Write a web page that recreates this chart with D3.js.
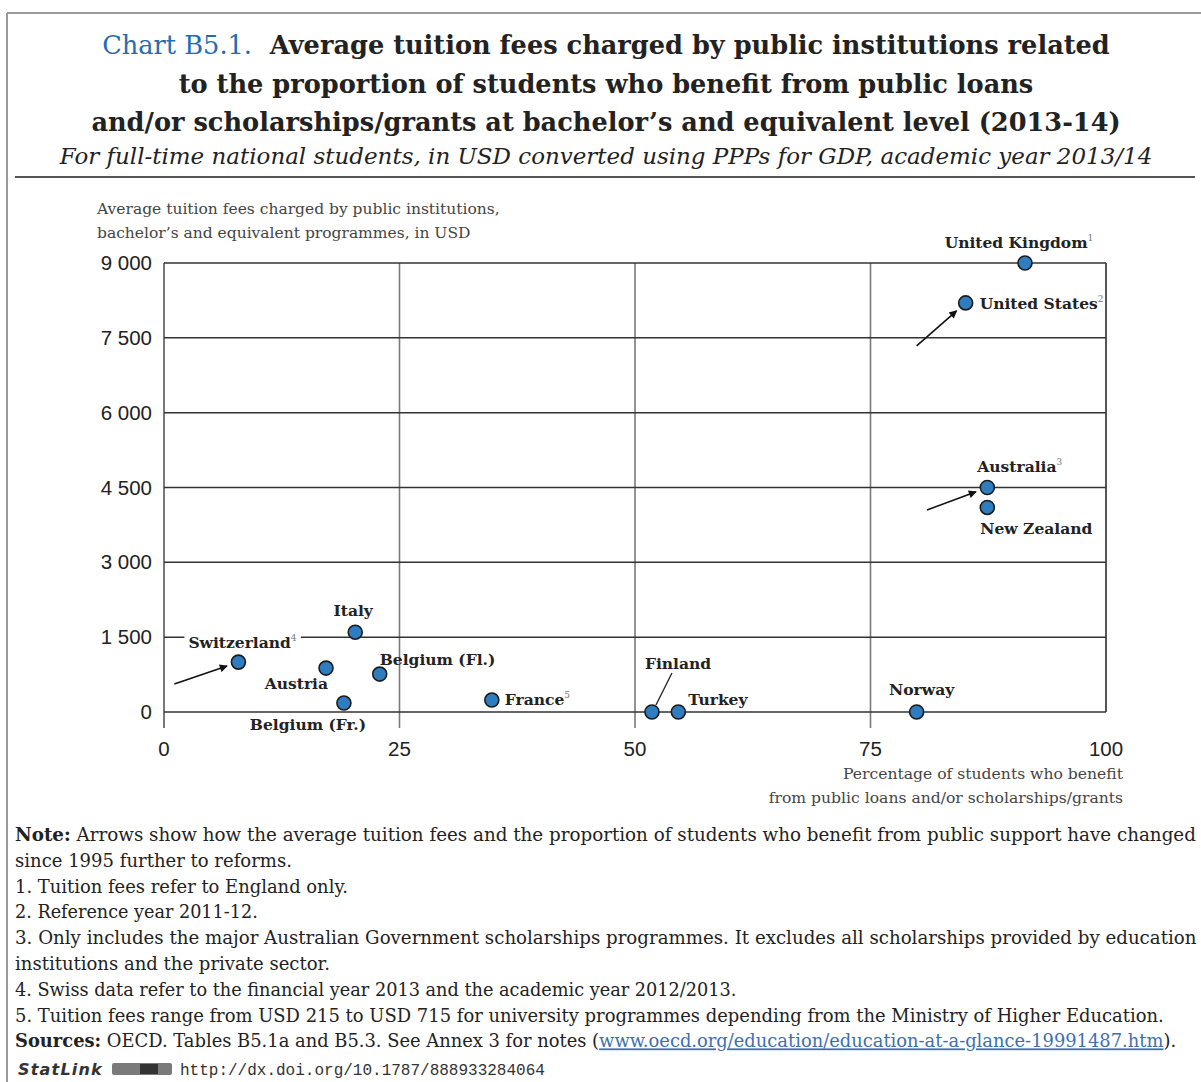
<!DOCTYPE html>
<html><head><meta charset="utf-8">
<script src="https://cdn.jsdelivr.net/npm/d3@7"></script>
<style>body{margin:0;background:#fff} svg{display:block}</style>
</head><body>
<svg id="c" width="1201" height="1082"></svg>
<script>
// ---------- data ----------
const countries = ["United Kingdom","United States","Australia","New Zealand","Italy","Switzerland","Austria","Belgium (Fl.)","Belgium (Fr.)","France","Finland","Turkey","Norway"];
const footnoteMarks = ["1","2","3","","","4","","","","5","","",""];
const pctBenefit = [91.4,85.1,87.4,87.4,20.3,7.9,17.2,22.9,19.1,34.8,51.8,54.6,79.9];
const tuitionUSD = [9000,8200,4500,4100,1600,1000,880,760,180,240,0,0,0];
const arrowCountries = ["United States","Australia","Switzerland"];
const arrowStartPct = [79.9,81.0,1.1];
const arrowStartUSD = [7340,4050,560];
const yTicks = [0,1500,3000,4500,6000,7500,9000];
const xTicks = [0,25,50,75,100];
const titleLines = ["Average tuition fees charged by public institutions related","to the proportion of students who benefit from public loans","and/or scholarships/grants at bachelor\u2019s and equivalent level (2013-14)"];
const subtitle = "For full-time national students, in USD converted using PPPs for GDP, academic year 2013/14";
const yTitle = ["Average tuition fees charged by public institutions,","bachelor\u2019s and equivalent programmes, in USD"];
const xTitle = ["Percentage of students who benefit","from public loans and/or scholarships/grants"];
const notes = [
  [["Note:",true],[" Arrows show how the average tuition fees and the proportion of students who benefit from public support have changed",false]],
  [["since 1995 further to reforms.",false]],
  [["1. Tuition fees refer to England only.",false]],
  [["2. Reference year 2011-12.",false]],
  [["3. Only includes the major Australian Government scholarships programmes. It excludes all scholarships provided by education",false]],
  [["institutions and the private sector.",false]],
  [["4. Swiss data refer to the financial year 2013 and the academic year 2012/2013.",false]],
  [["5. Tuition fees range from USD 215 to USD 715 for university programmes depending from the Ministry of Higher Education.",false]],
  [["Sources:",true],[" OECD. Tables B5.1a and B5.3. See Annex 3 for notes (",false],["www.oecd.org/education/education-at-a-glance-19991487.htm","link"],[").",false]]
];
const statLinkUrl = "http://dx.doi.org/10.1787/888933284064";

// ---------- layout ----------
const serif = "'DejaVu Serif', serif";
const sans = "'Liberation Sans', Arial, sans-serif";
const svg = d3.select("#c");
const x = d3.scaleLinear().domain([0,100]).range([164,1106]);
const y = d3.scaleLinear().domain([0,9000]).range([712,263]);
const ink = "#222";

// frame
svg.append("line").attr("x1",7).attr("x2",1201).attr("y1",13).attr("y2",13).attr("stroke","#9a9a9a").attr("stroke-width",2);
svg.append("line").attr("x1",7).attr("x2",7).attr("y1",13).attr("y2",1082).attr("stroke","#9a9a9a").attr("stroke-width",2);
svg.append("line").attr("x1",15).attr("x2",1195).attr("y1",177).attr("y2",177).attr("stroke","#555").attr("stroke-width",2.2);

function fit(sel, target){
  const n = sel.node(); const fs = parseFloat(sel.attr("font-size"));
  const w = n.getComputedTextLength();
  sel.attr("font-size", (fs*target/w).toFixed(2));
}

// title
const cx = 606;
const t1 = svg.append("text").attr("x",cx).attr("y",54).attr("text-anchor","middle").attr("font-family",serif).attr("font-size",24).attr("fill",ink);
t1.append("tspan").text("Chart B5.1.").attr("fill","#1f6db3");
t1.append("tspan").text("\u00a0\u00a0"+titleLines[0]).attr("font-weight","bold");
const t2 = svg.append("text").attr("x",cx).attr("y",93).attr("text-anchor","middle").attr("font-family",serif).attr("font-weight","bold").attr("font-size",24).attr("fill",ink).text(titleLines[1]);
const t3 = svg.append("text").attr("x",cx).attr("y",131).attr("text-anchor","middle").attr("font-family",serif).attr("font-weight","bold").attr("font-size",24).attr("fill",ink).text(titleLines[2]);
fit(t3,1030);
const tfs = t3.attr("font-size"); t1.attr("font-size",tfs); t2.attr("font-size",tfs);
const st = svg.append("text").attr("x",cx).attr("y",164).attr("text-anchor","middle").attr("font-family",serif).attr("font-style","italic").attr("font-size",20).attr("fill",ink).text(subtitle);
fit(st,1093);

// axis titles
yTitle.forEach((s,i)=>svg.append("text").attr("x",97).attr("y",214+i*24).attr("font-family",serif).attr("font-size",15.5).attr("fill","#444").text(s));
xTitle.forEach((s,i)=>svg.append("text").attr("x",1123).attr("y",779+i*24).attr("text-anchor","end").attr("font-family",serif).attr("font-size",15.6).attr("fill","#444").text(s));

// grid
const g = svg.append("g");
g.selectAll(".vg").data(xTicks.filter(d=>d>0&&d<100)).join("line")
  .attr("x1",d=>x(d)).attr("x2",d=>x(d)).attr("y1",y(9000)).attr("y2",y(0)+16).attr("stroke","#7a7a7a").attr("stroke-width",1.6);
g.append("line").attr("x1",x(0)).attr("x2",x(0)).attr("y1",y(9000)).attr("y2",y(0)+16).attr("stroke","#6a6a6a").attr("stroke-width",1.8);
g.append("line").attr("x1",x(100)).attr("x2",x(100)).attr("y1",y(9000)).attr("y2",y(0)).attr("stroke","#444").attr("stroke-width",1.8);
g.selectAll(".hg").data(yTicks).join("line")
  .attr("x1",x(0)).attr("x2",x(100)).attr("y1",d=>y(d)).attr("y2",d=>y(d)).attr("stroke","#333").attr("stroke-width",1.5);

// tick labels
const fmt = v => d3.format(",")(v).replace(/,/g," ");
svg.selectAll(".yl").data(yTicks).join("text").attr("x",152).attr("y",d=>y(d)+7).attr("text-anchor","end")
  .attr("font-family",sans).attr("font-size",20.5).attr("fill",ink).text(fmt);
svg.selectAll(".xl").data(xTicks).join("text").attr("x",d=>x(d)).attr("y",756).attr("text-anchor","middle")
  .attr("font-family",sans).attr("font-size",20.5).attr("fill",ink).text(d=>d);

// arrows
const defs = svg.append("defs");
defs.append("marker").attr("id","ah").attr("viewBox","0 0 10 10").attr("refX",9).attr("refY",5)
  .attr("markerWidth",10).attr("markerHeight",8).attr("markerUnits","userSpaceOnUse").attr("orient","auto")
  .append("path").attr("d","M0,0 L10,5 L0,10 Z").attr("fill","#111");
arrowCountries.forEach((c,i)=>{
  const k = countries.indexOf(c);
  const x0 = x(arrowStartPct[i]), y0 = y(arrowStartUSD[i]);
  const x1 = x(pctBenefit[k]), y1 = y(tuitionUSD[k]);
  const L = Math.hypot(x1-x0,y1-y0), s = (L-12)/L;
  svg.append("line").attr("x1",x0).attr("y1",y0).attr("x2",x0+(x1-x0)*s).attr("y2",y0+(y1-y0)*s)
    .attr("stroke","#111").attr("stroke-width",1.6).attr("marker-end","url(#ah)");
});

// Finland leader
(function(){
  const k = countries.indexOf("Finland");
  const px = x(pctBenefit[k]), py = y(tuitionUSD[k]);
  svg.append("line").attr("x1",px+4).attr("y1",py-7).attr("x2",px+20).attr("y2",py-39).attr("stroke","#222").attr("stroke-width",1.3);
})();

// labels
const labelPos = {
  "United Kingdom":{a:"middle",dx:-6,dy:-15},
  "United States":{a:"start",dx:14,dy:6},
  "Australia":{a:"start",dx:-10,dy:-16},
  "New Zealand":{a:"start",dx:-7,dy:27},
  "Italy":{a:"middle",dx:-2,dy:-16},
  "Switzerland":{a:"start",dx:-50,dy:-14,bg:true},
  "Austria":{a:"end",dx:2,dy:21},
  "Belgium (Fl.)":{a:"start",dx:0,dy:-9},
  "Belgium (Fr.)":{a:"middle",dx:-36,dy:27},
  "France":{a:"start",dx:13,dy:5},
  "Finland":{a:"start",dx:-7,dy:-43},
  "Turkey":{a:"start",dx:10,dy:-7},
  "Norway":{a:"middle",dx:5,dy:-17}
};
const lab = svg.append("g");
countries.forEach((c,i)=>{
  const p = labelPos[c];
  const t = lab.append("text").attr("x",x(pctBenefit[i])+p.dx).attr("y",y(tuitionUSD[i])+p.dy)
    .attr("text-anchor",p.a).attr("font-family",serif).attr("font-weight","bold").attr("font-size",15.5).attr("fill",ink);
  t.append("tspan").text(c);
  if(footnoteMarks[i]) t.append("tspan").text(footnoteMarks[i]).attr("font-size",9).attr("font-weight","normal").attr("fill","#777").attr("dy",-7);
  if(p.bg){
    const b = t.node().getBBox();
    lab.insert("rect","text").attr("x",b.x-4).attr("y",b.y).attr("width",b.width+8).attr("height",b.height).attr("fill","#fff");
  }
});

// points
svg.selectAll(".pt").data(countries).join("circle")
  .attr("cx",(d,i)=>x(pctBenefit[i])).attr("cy",(d,i)=>y(tuitionUSD[i])).attr("r",7)
  .attr("fill","#2e7dc0").attr("stroke","#1b1b1b").attr("stroke-width",1.6);

// notes (each line sized to the width it takes in the reference)
const noteWidths = [1182,277,333,243,1182,315,722,1150,1162];
notes.forEach((parts,i)=>{
  const t = svg.append("text").attr("x",15).attr("y",841+i*25.8).attr("font-family",serif).attr("font-size",17).attr("fill",ink);
  parts.forEach(([s,k])=>{
    const ts = t.append("tspan").text(s);
    if(k===true) ts.attr("font-weight","bold");
    if(k==="link") ts.attr("fill","#3d6fb0").attr("text-decoration","underline");
  });
  fit(t, noteWidths[i]);
});

// StatLink
svg.append("text").attr("x",18).attr("y",1075).attr("font-family","'DejaVu Sans', sans-serif").attr("font-weight","bold").attr("font-style","italic").attr("font-size",16).attr("letter-spacing",1.2).attr("fill","#333").text("StatLink");
const ic = svg.append("g");
ic.append("rect").attr("x",112).attr("y",1063).attr("width",60).attr("height",12).attr("rx",2).attr("fill","#7a7a7a");
ic.append("rect").attr("x",140).attr("y",1064).attr("width",18).attr("height",10).attr("fill","#333");
svg.append("text").attr("x",180).attr("y",1075).attr("font-family","'Liberation Mono', monospace").attr("font-size",16).attr("fill","#333").text(statLinkUrl);
</script>
</body></html>
